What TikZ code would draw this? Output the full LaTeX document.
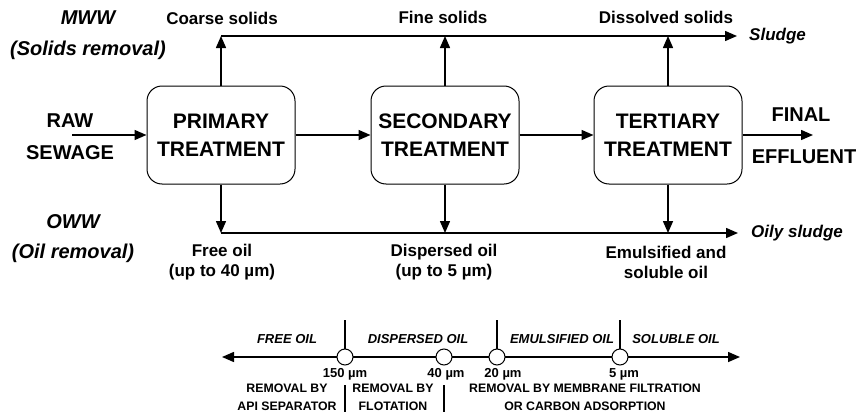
\documentclass[tikz,border=0pt]{standalone}
\usepackage{fontspec}
\setmainfont{Liberation Sans}
\usepackage{tikz}
\usetikzlibrary{arrows.meta, positioning}
\tikzset{
    stagenode/.style = {draw, rectangle, rounded corners=15pt, line width=1pt, minimum width=148pt,
      minimum height=98pt, inner sep=0pt, align=center, font=\fontsize{21}{28}\selectfont\bfseries},
    labelnode/.style = {draw=none, inner sep=0pt, align=center, font=\fontsize{17}{20}\selectfont\bfseries},
    bignode/.style = {draw=none, inner sep=0pt, align=center, font=\fontsize{20}{24}\selectfont\bfseries},
    sidenode/.style = {draw=none, inner sep=0pt, align=center, font=\fontsize{20}{24}\selectfont\bfseries\itshape},
    outnode/.style = {draw=none, inner sep=0pt, anchor=west, font=\fontsize{17}{20}\selectfont\bfseries\itshape},
    oilnode/.style = {draw=none, inner sep=0pt, align=center, font=\fontsize{13}{16}\selectfont\bfseries\itshape},
    sizenode/.style = {draw=none, inner sep=0pt, align=center, font=\fontsize{13}{16}\selectfont\bfseries},
    methodnode/.style = {draw=none, inner sep=0pt, align=center, font=\fontsize{12.3}{18}\selectfont\bfseries},
    dotnode/.style = {draw, fill=white, circle, line width=1pt, minimum size=16pt, inner sep=0pt},
    connect/.style = {line width=1.5pt, -{Triangle[length=12pt,width=10pt]}},
    axis/.style = {line width=1.5pt, {Triangle[length=12pt,width=10pt]}-{Triangle[length=12pt,width=10pt]}},
    tick/.style = {line width=1.5pt}
}
\begin{document}
\begin{tikzpicture}[x=1pt, y=-1pt]
    \useasboundingbox (0,0) rectangle (862,415);

    % treatment stages
    \node [name=prim, stagenode] at (221,135) {PRIMARY\\TREATMENT};
    \node [name=sec, stagenode, right=75pt of prim] {SECONDARY\\TREATMENT};
    \node [name=ter, stagenode, right=74pt of sec] {TERTIARY\\TREATMENT};

    \node [name=raw, bignode] at (70,121) {RAW};
    \node [name=sewage, bignode] at (70,153) {SEWAGE};
    \node [name=final, bignode] at (801,115) {FINAL};
    \node [name=effluent, bignode] at (804,157) {EFFLUENT};

    \coordinate (in) at (72,135);
    \coordinate (out) at (813,135);
    \draw [connect] (in) -- (prim.west);
    \draw [connect] (prim.east) -- (sec.west);
    \draw [connect] (sec.east) -- (ter.west);
    \draw [connect] (ter.east) -- (out);

    % solids removal
    \node [name=mww, sidenode] at (88,18) {MWW};
    \node [name=solids, sidenode] at (88,50) {(Solids removal)};
    \node [name=coarse, labelnode] at (222,18) {Coarse solids};
    \node [name=fine, labelnode] at (443,17) {Fine solids};
    \node [name=dissolved, labelnode] at (666,17) {Dissolved solids};
    \node [name=sludge, outnode] at (749,36) {Sludge};

    \coordinate (topL) at (221,36);
    \coordinate (topR) at (737,36);
    \draw [connect] (topL) -- (topR);
    \draw [connect] (prim.north) -- (prim.north |- topL);
    \draw [connect] (sec.north) -- (sec.north |- topL);
    \draw [connect] (ter.north) -- (ter.north |- topL);

    % oil removal
    \node [name=oww, sidenode] at (73,222) {OWW};
    \node [name=oilrem, sidenode] at (73,253) {(Oil removal)};
    \node [name=freeoil, labelnode] at (222,262) {Free oil\\(up to 40 µm)};
    \node [name=dispoil, labelnode] at (444,262) {Dispersed oil\\(up to 5 µm)};
    \node [name=emuloil, labelnode] at (666,262) {Emulsified and\\soluble oil};
    \node [name=oilysludge, outnode] at (751,233) {Oily sludge};

    \coordinate (botL) at (221,233);
    \coordinate (botR) at (738,233);
    \draw [connect] (botL) -- (botR);
    \draw [connect] (prim.south) -- (prim.south |- botL);
    \draw [connect] (sec.south) -- (sec.south |- botL);
    \draw [connect] (ter.south) -- (ter.south |- botL);

    % droplet size scale
    \coordinate (axL) at (222,357);
    \coordinate (axR) at (740,357);
    \draw [axis] (axL) -- (axR);
    \node [name=d150, dotnode] at (345,357) {};
    \node [name=d40, dotnode] at (444,357) {};
    \node [name=d20, dotnode] at (497,357) {};
    \node [name=d5, dotnode] at (620,357) {};

    \coordinate (t150) at (345,320);
    \coordinate (t20) at (497,320);
    \coordinate (t5) at (620,320);
    \draw [tick] (t150) -- (d150.north);
    \draw [tick] (t20) -- (d20.north);
    \draw [tick] (t5) -- (d5.north);

    \node [name=lfree, oilnode] at (287,339) {FREE OIL};
    \node [name=ldisp, oilnode] at (418,339) {DISPERSED OIL};
    \node [name=lemul, oilnode] at (562,339) {EMULSIFIED OIL};
    \node [name=lsol, oilnode] at (676,339) {SOLUBLE OIL};

    \node [name=s150, sizenode] at (345,374) {150 µm};
    \node [name=s40, sizenode] at (446,374) {40 µm};
    \node [name=s20, sizenode] at (503,374) {20 µm};
    \node [name=s5, sizenode] at (624,374) {5 µm};

    \node [name=mapi, methodnode] at (287,397) {REMOVAL BY\\API SEPARATOR};
    \node [name=mflot, methodnode] at (393,397) {REMOVAL BY\\FLOTATION};
    \node [name=mmemb, methodnode] at (585,397) {REMOVAL BY MEMBRANE FILTRATION\\OR CARBON ADSORPTION};

    \coordinate (v1a) at (345,385);
    \coordinate (v1b) at (345,412);
    \coordinate (v2a) at (444,385);
    \coordinate (v2b) at (444,412);
    \draw [tick] (v1a) -- (v1b);
    \draw [tick] (v2a) -- (v2b);
\end{tikzpicture}
\end{document}
